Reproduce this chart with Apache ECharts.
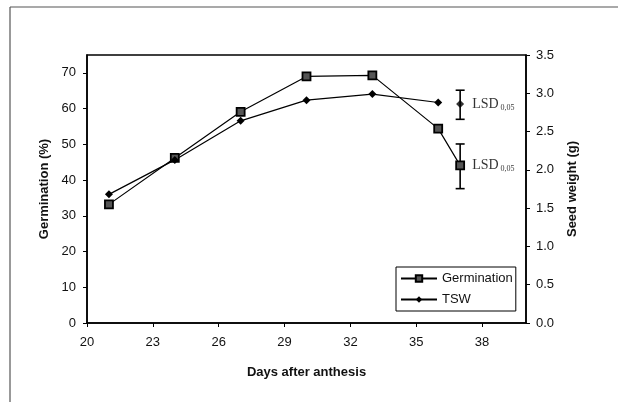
<!DOCTYPE html>
<html>
<head>
<meta charset="utf-8">
<script src="https://cdn.jsdelivr.net/npm/echarts@6/dist/echarts.min.js"></script>
<style>
  html, body { margin: 0; padding: 0; background: #fff; }
  #chart { width: 618px; height: 402px; }
</style>
</head>
<body>
<div id="chart"></div>
<script>
// days after anthesis
const germDays = [21, 24, 27, 30, 33, 36, 37]
const tswDays = [21, 24, 27, 30, 33, 36]

// germination (%) - left axis
const germination = [33.2, 46.2, 59.1, 69.0, 69.3, 54.4, 44.1]
// thousand seed weight (g) - right axis
const tsw = [1.68, 2.13, 2.64, 2.91, 2.99, 2.88]

// LSD 0,05 bars: [day, low, high]
const germLsd = [[37, 37.6, 50.1]]
const tswLsd = [[37, 2.66, 3.04]]
const tswLsdMid = [[37, 2.86]]

const font = 'Liberation Sans, Arial, sans-serif'
const serif = 'Liberation Serif, Times New Roman, serif'

function pairs (xs, ys) {
  return xs.map((x, i) => [x, ys[i]])
}

// vertical bar with caps, drawn from the axis scales
function renderLsd (params, api) {
  const x = api.value(0)
  const lo = api.coord([x, api.value(1)])
  const hi = api.coord([x, api.value(2)])
  const cap = 4.5
  const style = { stroke: '#000', lineWidth: 1.6 }
  return {
    type: 'group',
    children: [
      { type: 'line', shape: { x1: lo[0], y1: lo[1], x2: hi[0], y2: hi[1] }, style },
      { type: 'line', shape: { x1: lo[0] - cap, y1: lo[1], x2: lo[0] + cap, y2: lo[1] }, style },
      { type: 'line', shape: { x1: hi[0] - cap, y1: hi[1], x2: hi[0] + cap, y2: hi[1] }, style }
    ]
  }
}

const lsdRich = {
  a: { fontFamily: serif, fontSize: 14, color: '#000' },
  b: { fontFamily: serif, fontSize: 8, color: '#000', padding: [7, 0, 0, 2] }
}

const myChart = echarts.init(document.getElementById('chart'))

const opt = {
  backgroundColor: '#fff',
  animation: false,
  textStyle: { fontFamily: font },
  grid: {
    left: 87,
    right: 92,
    top: 55,
    bottom: 79,
    show: true,
    borderColor: '#000',
    borderWidth: 1.5
  },
  legend: {
    data: ['Germination', 'TSW'],
    orient: 'vertical',
    left: 396,
    top: 267,
    padding: [5, 3, 5, 4],
    itemGap: 8,
    itemWidth: 36,
    itemHeight: 8,
    borderColor: '#000',
    borderWidth: 1,
    textStyle: { fontFamily: font, fontSize: 13, color: '#111' }
  },
  xAxis: {
    type: 'value',
    min: 20,
    max: 40,
    interval: 3,
    name: 'Days after anthesis',
    nameLocation: 'middle',
    nameGap: 43,
    nameTextStyle: { fontFamily: font, fontSize: 13, fontWeight: 'bold', color: '#111' },
    axisLine: { lineStyle: { color: '#000', width: 1.5 } },
    axisTick: { length: 4, lineStyle: { color: '#000' } },
    axisLabel: { showMaxLabel: false, margin: 13, fontSize: 13, color: '#111' },
    splitLine: { show: false }
  },
  yAxis: [
    {
      type: 'value',
      min: 0,
      max: 75,
      interval: 10,
      name: 'Germination (%)',
      nameLocation: 'middle',
      nameGap: 36,
      nameTextStyle: { fontFamily: font, fontSize: 13, fontWeight: 'bold', color: '#111' },
      axisLine: { show: true, lineStyle: { color: '#000', width: 1.5 } },
      axisTick: { show: true, length: 4, lineStyle: { color: '#000' } },
      axisLabel: { showMaxLabel: false, margin: 11, fontSize: 13, color: '#111' },
      splitLine: { show: false }
    },
    {
      type: 'value',
      min: 0,
      max: 3.5,
      interval: 0.5,
      position: 'right',
      name: 'Seed weight (g)',
      nameLocation: 'middle',
      nameGap: 40,
      nameTextStyle: { fontFamily: font, fontSize: 13, fontWeight: 'bold', color: '#111' },
      axisLine: { show: true, lineStyle: { color: '#000', width: 1.5 } },
      axisTick: { show: true, length: 4, lineStyle: { color: '#000' } },
      axisLabel: { margin: 10, fontSize: 13, color: '#111', formatter: v => v.toFixed(1) },
      splitLine: { show: false }
    }
  ],
  series: [
    {
      name: 'Germination',
      type: 'line',
      data: pairs(germDays, germination),
      symbol: 'rect',
      symbolSize: 8,
      lineStyle: { color: '#000', width: 1.2 },
      itemStyle: { color: '#555', borderColor: '#000', borderWidth: 1.8 },
      z: 3
    },
    {
      name: 'TSW',
      type: 'line',
      yAxisIndex: 1,
      data: pairs(tswDays, tsw),
      symbol: 'diamond',
      symbolSize: 8,
      lineStyle: { color: '#000', width: 1.2 },
      itemStyle: { color: '#000' },
      z: 3
    },
    {
      name: 'germLsd',
      type: 'custom',
      renderItem: renderLsd,
      encode: { x: 0, y: [1, 2] },
      data: germLsd,
      z: 2
    },
    {
      name: 'tswLsd',
      type: 'custom',
      yAxisIndex: 1,
      renderItem: renderLsd,
      encode: { x: 0, y: [1, 2] },
      data: tswLsd,
      z: 2
    },
    {
      // TSW LSD centre marker and label
      name: 'tswLsdMid',
      type: 'scatter',
      yAxisIndex: 1,
      data: tswLsdMid,
      symbol: 'diamond',
      symbolSize: 8,
      itemStyle: { color: '#000' },
      label: {
        show: true,
        position: 'right',
        distance: 8,
        formatter: () => '{a|LSD}{b|0,05}',
        rich: lsdRich
      },
      z: 4
    },
    {
      // label for the germination LSD, hung on the last germination point
      name: 'germLsdLabel',
      type: 'scatter',
      data: [[germDays[6], germination[6]]],
      symbolSize: 0,
      label: {
        show: true,
        position: 'right',
        distance: 12,
        formatter: () => '{a|LSD}{b|0,05}',
        rich: lsdRich
      },
      z: 4
    }
  ],
  // scanned page frame
  graphic: [
    { type: 'line', shape: { x1: 10, y1: 7, x2: 618, y2: 7 }, style: { stroke: '#555', lineWidth: 1.2 } },
    { type: 'line', shape: { x1: 10, y1: 7, x2: 10, y2: 402 }, style: { stroke: '#555', lineWidth: 1.2 } }
  ]
}

myChart.setOption(opt)
</script>
</body>
</html>
